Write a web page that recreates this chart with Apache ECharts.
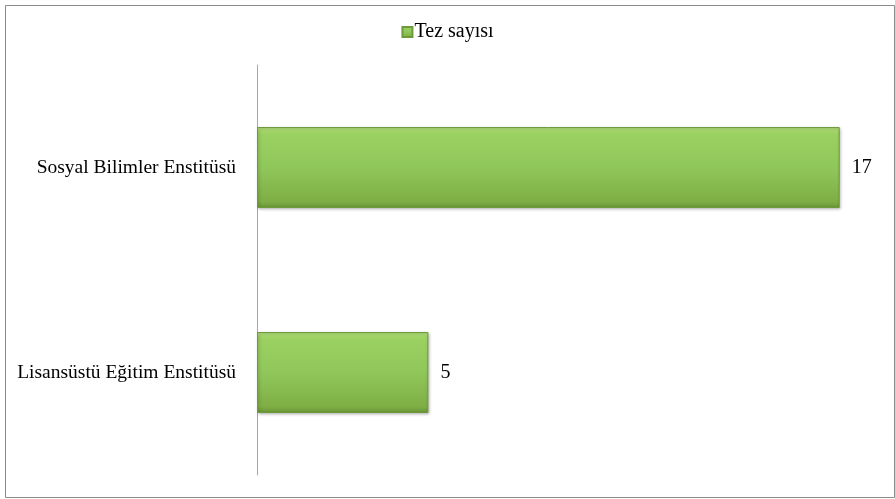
<!DOCTYPE html>
<html>
<head>
<meta charset="utf-8">
<script src="https://cdn.jsdelivr.net/npm/echarts@6/dist/echarts.min.js"></script>
<style>
html,body{margin:0;padding:0;background:#fff;}
#c{width:895px;height:499px;}
</style>
</head>
<body>
<div id="c"></div>
<script>
const categories = ['Lisansüstü Eğitim Enstitüsü', 'Sosyal Bilimler Enstitüsü'];
const seriesName = 'Tez sayısı';
const values = [5, 17];

const chart = echarts.init(document.getElementById('c'));
const font = '"Liberation Serif", "Times New Roman", serif';
chart.setOption({
  animation: false,
  graphic: [{
    type: 'rect', left: 3, top: 3,
    shape: {width: 889, height: 492},
    style: {fill: 'none', stroke: '#8c8c8c', lineWidth: 1},
    silent: true
  }],
  legend: {
    top: 17, left: 'center',
    itemWidth: 10, itemHeight: 10, itemGap: 4,
    icon: 'rect',
    textStyle: {fontFamily: font, fontSize: 20, color: '#000', padding: [0, 0, 0, -3]},
    data: [seriesName]
  },
  grid: {left: 257, right: 21, top: 65, bottom: 24, containLabel: false},
  xAxis: {
    type: 'value', min: 0, max: 18,
    show: false
  },
  yAxis: {
    type: 'category', data: categories,
    axisLine: {show: true, lineStyle: {color: '#a6a6a6', width: 1}},
    axisTick: {show: false},
    axisLabel: {fontFamily: font, fontSize: 19.5, color: '#000', margin: 21}
  },
  series: [{
    name: seriesName,
    type: 'bar',
    data: values,
    barWidth: 81,
    itemStyle: {
      color: new echarts.graphic.LinearGradient(0, 0, 0, 1, [
        {offset: 0, color: '#b5e07e'},
        {offset: 0.08, color: '#9bd161'},
        {offset: 0.5, color: '#90c75a'},
        {offset: 0.92, color: '#7eae45'},
        {offset: 1, color: '#6a9636'}
      ]),
      borderColor: '#6f9a3c',
      borderWidth: 1,
      shadowColor: 'rgba(0,0,0,0.3)',
      shadowBlur: 3,
      shadowOffsetX: 1,
      shadowOffsetY: 1
    },
    label: {
      show: true, position: 'right', distance: 12,
      fontFamily: font, fontSize: 20, color: '#000'
    }
  }]
});
</script>
</body>
</html>
